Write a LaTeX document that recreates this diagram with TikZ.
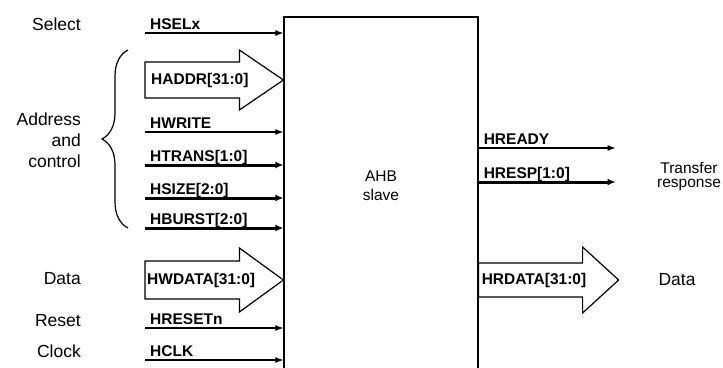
\documentclass[tikz,border=0pt]{standalone}
\usepackage{fontspec}
\setmainfont{Liberation Sans}
\usetikzlibrary{positioning,arrows.meta,calc,decorations.pathreplacing}

\begin{document}
\begin{tikzpicture}[x=1pt, y=-1pt,
  sig/.style={draw, line width=1.2pt, -{Latex[length=8pt,width=6pt]}},
  wide/.style={draw, line width=3pt, -{Latex[length=8pt,width=7pt]}},
  bus/.style={draw, line width=1.2pt, fill=white, line join=miter},
  lbl/.style={font=\bfseries\fontsize{15.5}{17}\selectfont, inner sep=0pt, anchor=base west},
  side/.style={font=\fontsize{17.5}{21}\selectfont, align=right, anchor=east, inner sep=0pt},
  brc/.style={draw, line width=1.2pt, decorate, decoration={brace, amplitude=26pt}}]
\useasboundingbox (0,0) rectangle (723,367);
\clip (0,0) rectangle (723,367);
% slave block
\node[draw, line width=1.2pt, minimum width=194pt, minimum height=362pt, inner sep=0pt] (slave) at (381,198) {};
\node[font=\fontsize{15.5}{19}\selectfont, align=center] (name) at (381,186) {AHB\\slave};
% input lines
\coordinate (hsel) at (145,33);
\coordinate (haddr) at (145,80);
\coordinate (hwrite) at (145,132);
\coordinate (htrans) at (145,165);
\coordinate (hsize) at (145,198);
\coordinate (hburst) at (145,228);
\coordinate (hwdata) at (145,280);
\coordinate (hreset) at (145,328);
\coordinate (hclk) at (145,360);
\draw[sig] (hsel) -- (hsel -| slave.west);
\draw[sig] (hwrite) -- (hwrite -| slave.west);
\draw[wide] (htrans) -- (htrans -| slave.west);
\draw[wide] (hsize) -- (hsize -| slave.west);
\draw[wide] (hburst) -- (hburst -| slave.west);
\draw[sig] (hreset) -- (hreset -| slave.west);
\draw[sig] (hclk) -- (hclk -| slave.west);
\draw[bus] ($(haddr)+(0,-18)$) -- ($(haddr -| slave.west)+(-44,-18)$) -- ++(0,-12)
  -- (haddr -| slave.west) -- ($(haddr -| slave.west)+(-44,30)$) -- ++(0,-12) -- ($(haddr)+(0,18)$) -- cycle;
\draw[bus] ($(hwdata)+(0,-19)$) -- ($(hwdata -| slave.west)+(-44,-19)$) -- ++(0,-13)
  -- (hwdata -| slave.west) -- ($(hwdata -| slave.west)+(-44,32)$) -- ++(0,-13) -- ($(hwdata)+(0,19)$) -- cycle;
\node[lbl] (hsellbl) at ($(hsel)+(5,-4)$) {HSELx};
\node[lbl, anchor=west] (haddrlbl) at ($(haddr)+(6,0)$) {HADDR[31:0]};
\node[lbl] (hwritelbl) at ($(hwrite)+(5,-4)$) {HWRITE};
\node[lbl] (htranslbl) at ($(htrans)+(5,-4)$) {HTRANS[1:0]};
\node[lbl] (hsizelbl) at ($(hsize)+(5,-4)$) {HSIZE[2:0]};
\node[lbl] (hburstlbl) at ($(hburst)+(5,-4)$) {HBURST[2:0]};
\node[lbl, anchor=west] (hwdatalbl) at ($(hwdata)+(2,0)$) {HWDATA[31:0]};
\node[lbl] (hresetlbl) at ($(hreset)+(5,-4)$) {HRESETn};
\node[lbl] (hclklbl) at ($(hclk)+(5,-4)$) {HCLK};
% output lines
\coordinate (hready) at (slave.east |- 0,148);
\coordinate (hresp) at (slave.east |- 0,182);
\coordinate (hrdata) at (slave.east |- hwdata);
\draw[sig] (hready) -- ++(137,0) coordinate (hreadyend);
\draw[wide] (hresp) -- ++(137,0) coordinate (hrespend);
\draw[bus] ($(hrdata)+(0,-17)$) -- ++(104,0) -- ++(0,-16) -- ($(hrdata)+(140,0)$)
  -- ($(hrdata)+(104,33)$) -- ++(0,-16) -- ($(hrdata)+(0,17)$) -- cycle;
\node[lbl] (hreadylbl) at ($(hready)+(5,-4)$) {HREADY};
\node[lbl] (hresplbl) at ($(hresp)+(5,-4)$) {HRESP[1:0]};
\node[lbl, anchor=west] (hrdatalbl) at ($(hrdata)+(3,0)$) {HRDATA[31:0]};
% side labels
\node[side] (select) at (81,24) {Select};
\node[side] (addr) at (81,140) {Address\\and\\control};
\node[side] (wdata) at (81,279) {Data};
\node[side] (reset) at (81,321) {Reset};
\node[side] (clock) at (81,351) {Clock};
\draw[brc] (128,228) -- (128,50);
\node[font=\fontsize{15.5}{14}\selectfont, align=center] (xfer) at (689,176) {Transfer\\response};
\node[font=\fontsize{17.5}{21}\selectfont] (rdata) at (677,280) {Data};
\end{tikzpicture}
\end{document}
